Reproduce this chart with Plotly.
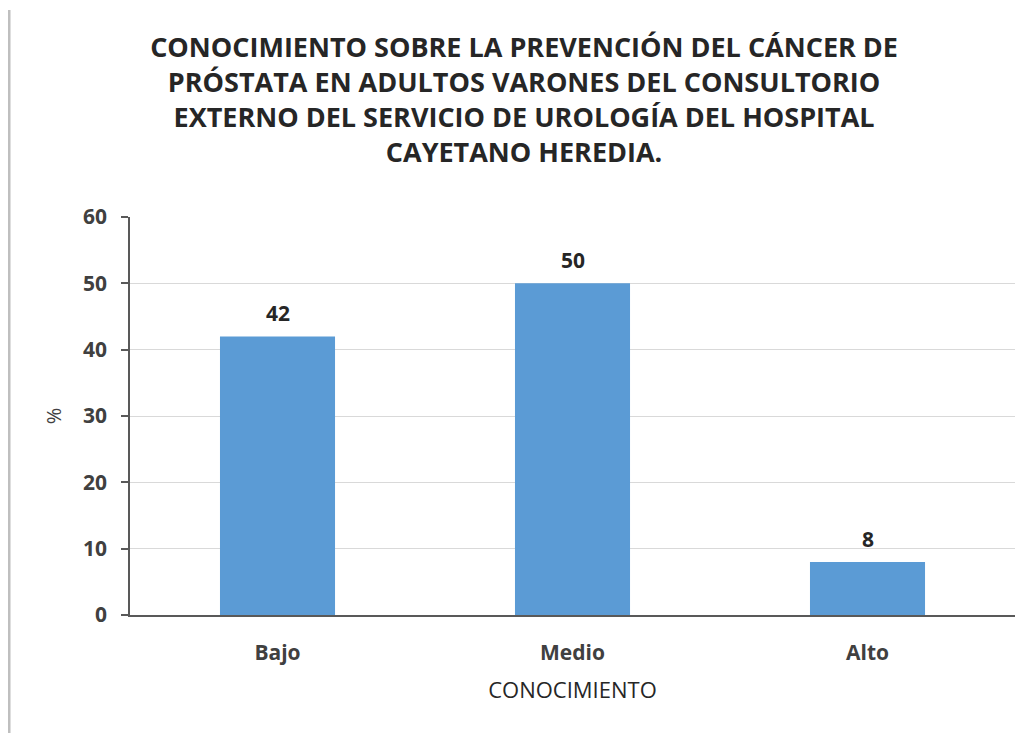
import plotly.graph_objects as go

categories = ["Bajo", "Medio", "Alto"]
values = [42, 50, 8]
title_lines = [
    "CONOCIMIENTO SOBRE LA PREVENCIÓN DEL CÁNCER DE",
    "PRÓSTATA EN ADULTOS VARONES DEL CONSULTORIO",
    "EXTERNO DEL SERVICIO DE UROLOGÍA DEL HOSPITAL",
    "CAYETANO HEREDIA.",
]
y_ticks = [0, 10, 20, 30, 40, 50, 60]
x_title = "CONOCIMIENTO"
y_title = "%"

FONT = "Open Sans"
DARK = "#262626"
TICK = "#404040"

fig = go.Figure()
fig.add_trace(go.Bar(
    x=categories, y=values,
    marker=dict(color="#5B9BD5", line=dict(width=0)),
    width=0.39,
    hoverinfo="x+y",
))

for c, v in zip(categories, values):
    fig.add_annotation(
        x=c, y=v, xref="x", yref="y", text=f"<b>{v}</b>", showarrow=False,
        yshift=23, font=dict(family=FONT, size=21, color=DARK),
    )

fig.update_layout(
    width=1028, height=733,
    paper_bgcolor="white", plot_bgcolor="white",
    margin=dict(l=122, r=21, t=209, b=126),
    showlegend=False,
    title=dict(
        text="<b>" + "<br>".join(title_lines) + "</b>",
        x=0.502, xanchor="center", y=0.933, yanchor="middle",
        font=dict(family=FONT, size=27, color=DARK),
    ),
    xaxis=dict(
        showline=True, linecolor="#595959", linewidth=1.5,
        ticks="", showgrid=False,
        tickfont=dict(family=FONT, size=21, color=TICK, weight="bold"),
        ticklabelstandoff=18,
        title=dict(text=x_title, standoff=18,
                   font=dict(family=FONT, size=22, color=DARK)),
    ),
    yaxis=dict(
        range=[0, 60], tickvals=y_ticks,
        showline=True, linecolor="#595959", linewidth=1.5,
        ticks="outside", ticklen=7, tickcolor="#595959", tickwidth=1.5,
        showgrid=True, gridcolor="#D9D9D9", gridwidth=1.2,
        zeroline=False,
        tickfont=dict(family=FONT, size=21, color=TICK, weight="bold"),
        ticklabelstandoff=10,
        title=dict(text=y_title, standoff=16,
                   font=dict(family=FONT, size=20, color=TICK)),
    ),
)

fig.add_shape(type="line", xref="paper", yref="paper",
              x0=-0.1367, x1=-0.1367, y0=-0.35, y1=1.52,
              line=dict(color="#BFBFBF", width=3))

fig.write_html("out.html")
